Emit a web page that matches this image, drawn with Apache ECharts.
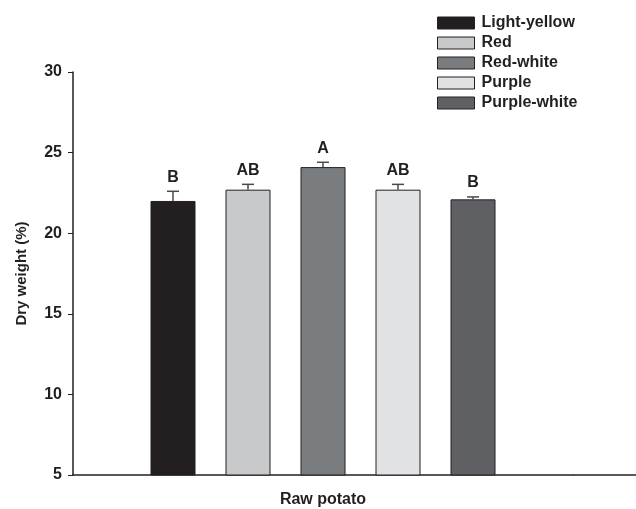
<!DOCTYPE html>
<html>
<head>
<meta charset="utf-8">
<script src="https://cdn.jsdelivr.net/npm/echarts@6/dist/echarts.min.js"></script>
<style>
html,body{margin:0;padding:0;background:#fff;}
#chart{width:636px;height:509px;}
</style>
</head>
<body>
<div id="chart"></div>
<script>
var categories = ['Raw potato'];
var seriesNames = ['Light-yellow', 'Red', 'Red-white', 'Purple', 'Purple-white'];
var meanValues = [22.0, 22.7, 24.1, 22.7, 22.1];
var errorValues = [0.6, 0.33, 0.3, 0.33, 0.15];
var groupLetters = ['B', 'AB', 'A', 'AB', 'B'];
var yTicks = [5, 10, 15, 20, 25, 30];

var colors = ['#231f20', '#c8c9cb', '#7a7d80', '#e1e2e4', '#5f6063'];
var FONT = '"Liberation Sans", Arial, sans-serif';
var BAR_W = 45, BAR_GAP = 30;

var chart = echarts.init(document.getElementById('chart'));
var series = [];
seriesNames.forEach(function (name, i) {
  series.push({
    name: name,
    type: 'bar',
    barWidth: BAR_W,
    barGap: (BAR_GAP / BAR_W * 100) + '%',
    data: [meanValues[i]],
    itemStyle: { color: colors[i], borderColor: '#231f20', borderWidth: 1 },
    z: 2
  });
});
seriesNames.forEach(function (name, i) {
  var offset = (i - (seriesNames.length - 1) / 2) * (BAR_W + BAR_GAP);
  series.push({
    type: 'custom',
    name: name + '-err',
    data: [[0, meanValues[i], meanValues[i] + errorValues[i]]],
    z: 3,
    silent: true,
    renderItem: function (params, api) {
      var base = api.coord([api.value(0), api.value(1)]);
      var top = api.coord([api.value(0), api.value(2)]);
      var x = base[0] + offset;
      var st = { stroke: '#4a4a4a', lineWidth: 1.5 };
      return {
        type: 'group',
        children: [
          { type: 'line', shape: { x1: x, y1: base[1], x2: x, y2: top[1] }, style: st },
          { type: 'line', shape: { x1: x - 6, y1: top[1], x2: x + 6, y2: top[1] }, style: st },
          { type: 'text', x: x, y: top[1] - 6,
            style: { text: groupLetters[i], textAlign: 'center', textVerticalAlign: 'bottom',
                     font: 'bold 16px ' + FONT, fill: '#231f20' } }
        ]
      };
    }
  });
});

chart.setOption({
  animation: false,
  backgroundColor: '#fff',
  grid: { left: 73, right: 63, top: 72, bottom: 34 },
  legend: {
    data: seriesNames,
    orient: 'vertical',
    left: 437,
    top: 15,
    padding: 0,
    itemWidth: 37,
    itemHeight: 12,
    itemGap: 4,
    icon: 'rect',
    itemStyle: { borderColor: '#231f20', borderWidth: 1 },
    textStyle: { fontFamily: FONT, fontWeight: 'bold', fontSize: 16, color: '#231f20', padding: [0, 0, 0, 2] }
  },
  xAxis: {
    type: 'category',
    data: categories,
    axisLine: { lineStyle: { color: '#231f20', width: 1.5 } },
    axisTick: { alignWithLabel: true, length: 5, lineStyle: { color: '#231f20', width: 1 } },
    axisLabel: { margin: 17, fontFamily: FONT, fontWeight: 'bold', fontSize: 16, color: '#231f20' }
  },
  yAxis: {
    type: 'value',
    min: yTicks[0],
    max: yTicks[yTicks.length - 1],
    interval: 5,
    name: 'Dry weight (%)',
    nameLocation: 'middle',
    nameGap: 44,
    nameTextStyle: { fontFamily: FONT, fontWeight: 'bold', fontSize: 15, color: '#231f20' },
    splitLine: { show: false },
    axisLine: { show: true, lineStyle: { color: '#231f20', width: 1.5 } },
    axisTick: { show: true, length: 5, lineStyle: { color: '#231f20', width: 1 } },
    axisLabel: { margin: 11, fontFamily: FONT, fontWeight: 'bold', fontSize: 16, color: '#231f20' }
  },
  graphic: [{
    type: 'line',
    shape: { x1: 573, y1: 475, x2: 636, y2: 475 },
    style: { stroke: '#231f20', lineWidth: 1.5 },
    z: 10
  }],
  series: series
});
</script>
</body>
</html>
